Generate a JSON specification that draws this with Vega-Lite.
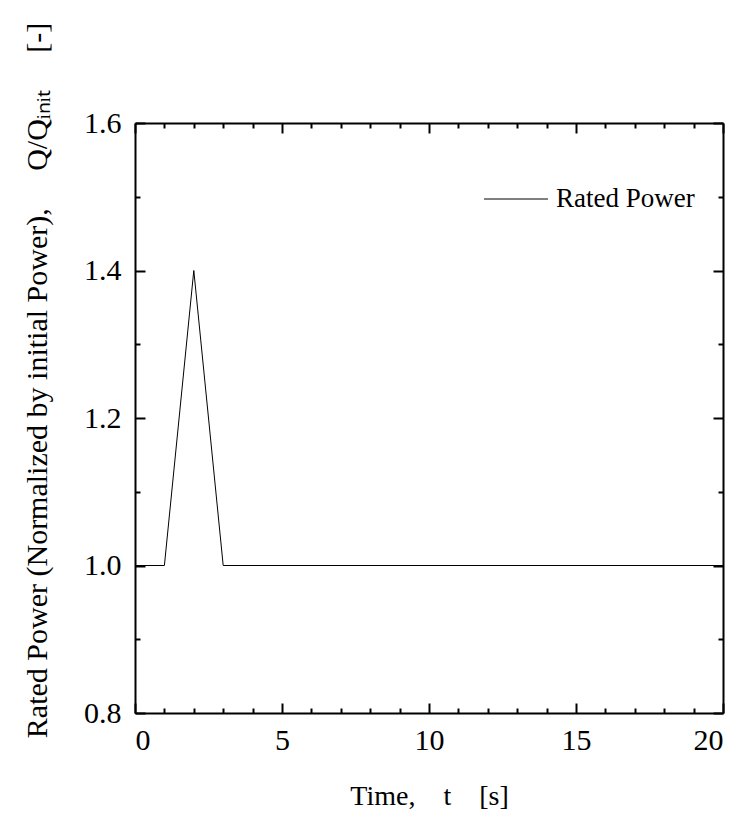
{
  "$schema": "https://vega.github.io/schema/vega-lite/v6.json",
  "width": 588,
  "height": 590,
  "autosize": {"type": "none"},
  "padding": {"left": 135, "top": 123, "right": 23, "bottom": 103},
  "background": "white",
  "config": {
    "view": {"stroke": null},
    "font": "Times New Roman, Liberation Serif, serif",
    "axis": {
      "grid": false,
      "domainColor": "black",
      "domainWidth": 2,
      "tickColor": "black",
      "tickWidth": 2,
      "labelColor": "black",
      "titleColor": "black",
      "labelFont": "Times New Roman, Liberation Serif, serif",
      "titleFont": "Times New Roman, Liberation Serif, serif",
      "titleFontWeight": "normal"
    },
    "legend": {
      "labelFont": "Times New Roman, Liberation Serif, serif"
    }
  },
  "data": {
    "values": [
      {"t": 0, "q": 1.0, "series": "Rated Power"},
      {"t": 1, "q": 1.0, "series": "Rated Power"},
      {"t": 2, "q": 1.4, "series": "Rated Power"},
      {"t": 3, "q": 1.0, "series": "Rated Power"},
      {"t": 20, "q": 1.0, "series": "Rated Power"}
    ]
  },
  "resolve": {"axis": {"x": "independent", "y": "independent"}},
  "layer": [
    {
      "mark": {"type": "line", "strokeWidth": 1, "clip": true},
      "encoding": {
        "x": {
          "field": "t", "type": "quantitative",
          "scale": {"domain": [0, 20], "nice": false, "zero": false},
          "axis": {
            "orient": "bottom", "values": [0, 5, 10, 15, 20],
            "tickSize": -10, "labelPadding": 22, "labelFontSize": 30,
            "title": "Time,\u00a0\u00a0\u00a0\u00a0t\u00a0\u00a0\u00a0\u00a0[s]", "titleFontSize": 28, "titlePadding": 27
          }
        },
        "y": {
          "field": "q", "type": "quantitative",
          "scale": {"domain": [0.8, 1.6], "nice": false, "zero": false},
          "axis": {
            "orient": "left", "values": [0.8, 1.0, 1.2, 1.4, 1.6], "format": ".1f",
            "tickSize": -10, "labelPadding": 24, "labelFontSize": 30,
            "title": "Rated Power (Normalized by initial Power),\u00a0\u00a0\u00a0\u00a0\u00a0Q/Qᵢₙᵢₜ\u00a0\u00a0\u00a0\u00a0\u00a0[-]",
            "titleFontSize": 30, "titleX": -98, "titleY": 257,
            "titleAngle": -90, "titleAlign": "center", "titleBaseline": "middle"
          }
        },
        "color": {
          "field": "series", "type": "nominal",
          "scale": {"range": ["black"]},
          "legend": {
            "title": null, "orient": "none", "legendX": 348, "legendY": 43,
            "symbolType": "stroke", "symbolSize": 4100, "symbolStrokeWidth": 1,
            "labelFontSize": 27, "labelColor": "black",
            "labelOffset": 7, "labelLimit": 300
          }
        }
      }
    },
    {
      "mark": {"type": "line", "opacity": 0},
      "encoding": {
        "x": {"field": "t", "type": "quantitative",
          "axis": {"orient": "top", "values": [0, 5, 10, 15, 20], "tickSize": -10, "labels": false, "title": null}},
        "y": {"field": "q", "type": "quantitative",
          "axis": {"orient": "right", "values": [0.8, 1.0, 1.2, 1.4, 1.6], "tickSize": -10, "labels": false, "title": null}}
      }
    },
    {
      "mark": {"type": "line", "opacity": 0},
      "encoding": {
        "x": {"field": "t", "type": "quantitative",
          "axis": {"orient": "bottom", "values": [1, 2, 3, 4, 6, 7, 8, 9, 11, 12, 13, 14, 16, 17, 18, 19], "tickSize": -5, "labels": false, "domain": false, "title": null}},
        "y": {"field": "q", "type": "quantitative",
          "axis": {"orient": "left", "values": [0.9, 1.1, 1.3, 1.5], "tickSize": -5, "labels": false, "domain": false, "title": null}}
      }
    },
    {
      "mark": {"type": "line", "opacity": 0},
      "encoding": {
        "x": {"field": "t", "type": "quantitative",
          "axis": {"orient": "top", "values": [1, 2, 3, 4, 6, 7, 8, 9, 11, 12, 13, 14, 16, 17, 18, 19], "tickSize": -5, "labels": false, "domain": false, "title": null}},
        "y": {"field": "q", "type": "quantitative",
          "axis": {"orient": "right", "values": [0.9, 1.1, 1.3, 1.5], "tickSize": -5, "labels": false, "domain": false, "title": null}}
      }
    }
  ]
}
